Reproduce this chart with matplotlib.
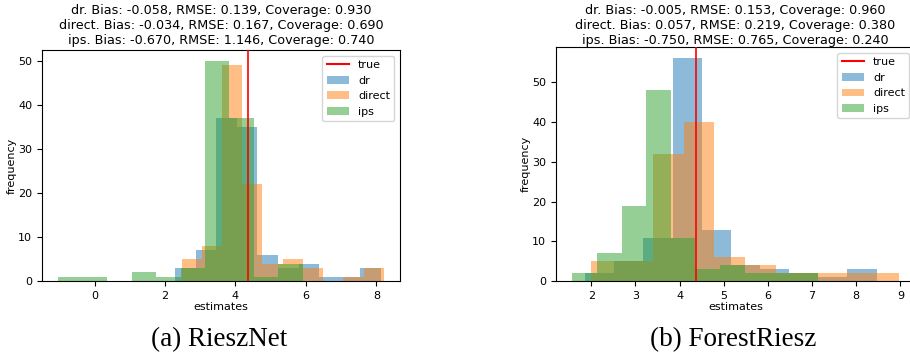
import matplotlib
matplotlib.use('Agg')
import matplotlib.pyplot as plt
import numpy as np
from matplotlib.lines import Line2D
from matplotlib.ticker import MultipleLocator

# ─── Data ───────────────────────────────────────────────────────────────
true_value = 4.36
methods = ['dr', 'direct', 'ips']

# (a) RieszNet: histogram range (lo, hi) and counts for 10 bins
rn_ranges = {'dr': (2.28, 8.13), 'direct': (2.47, 8.21), 'ips': (-1.03, 5.91)}
rn_dr = [3, 7, 37, 35, 6, 3, 4, 1, 1, 3]
rn_direct = [5, 8, 49, 22, 4, 5, 3, 0, 1, 3]
rn_ips = [1, 1, 0, 2, 1, 3, 50, 37, 1, 4]
rn_stats = ['dr. Bias: -0.058, RMSE: 0.139, Coverage: 0.930',
            'direct. Bias: -0.034, RMSE: 0.167, Coverage: 0.690',
            'ips. Bias: -0.670, RMSE: 1.146, Coverage: 0.740']

# (b) ForestRiesz
fr_ranges = {'dr': (1.86, 8.46), 'direct': (2.00, 8.96), 'ips': (1.57, 7.14)}
fr_dr = [2, 5, 11, 56, 13, 4, 3, 2, 1, 3]
fr_direct = [5, 5, 32, 40, 6, 4, 2, 2, 2, 2]
fr_ips = [2, 7, 19, 48, 11, 3, 4, 2, 2, 2]
fr_stats = ['dr. Bias: -0.005, RMSE: 0.153, Coverage: 0.960',
            'direct. Bias: 0.057, RMSE: 0.219, Coverage: 0.380',
            'ips. Bias: -0.750, RMSE: 0.765, Coverage: 0.240']

colors = {'dr': 'tab:blue', 'direct': 'tab:orange', 'ips': 'tab:green'}

# ─── Figure ─────────────────────────────────────────────────────────────
plt.rcParams['font.size'] = 8
fig = plt.figure(figsize=(9.1, 3.54), dpi=100)
ax_l = fig.add_axes([0.0462, 0.2054, 0.3934, 0.6534])
ax_r = fig.add_axes([0.611, 0.2054, 0.3945, 0.661])


def draw_panel(ax, ranges, counts, stats, step, pad):
    handles = [Line2D([], [], color='red', label='true')]
    for m in methods:
        lo, hi = ranges[m]
        edges = np.linspace(lo, hi, 11)
        _, _, bars = ax.hist(edges[:-1], bins=edges, weights=counts[m],
                             alpha=0.5, color=colors[m], label=m)
        handles.append(bars)
    ax.axvline(true_value, color='red', lw=1.2, zorder=3)
    ax.set_xlabel('estimates', labelpad=0.5)
    ax.set_ylabel('frequency', labelpad=1)
    ax.xaxis.set_major_locator(MultipleLocator(step))
    ax.yaxis.set_major_locator(MultipleLocator(10))
    ax.set_title('\n'.join(stats), fontsize=9.2, linespacing=1.2, pad=pad)
    ax.legend(handles=handles, labels=['true'] + methods, loc='upper right')


draw_panel(ax_l, rn_ranges, {'dr': rn_dr, 'direct': rn_direct, 'ips': rn_ips},
           rn_stats, 2, 4)
draw_panel(ax_r, fr_ranges, {'dr': fr_dr, 'direct': fr_direct, 'ips': fr_ips},
           fr_stats, 1, 2)

# ─── Sub-captions ───────────────────────────────────────────────────────
fig.text(219 / 910, 1 - 340 / 354, '(a) RieszNet', ha='center', va='center',
         fontsize=19.5, family='Liberation Serif')
fig.text(733 / 910, 1 - 340 / 354, '(b) ForestRiesz', ha='center', va='center',
         fontsize=19.5, family='Liberation Serif')

fig.savefig('out.png', dpi=100)
plt.close()
